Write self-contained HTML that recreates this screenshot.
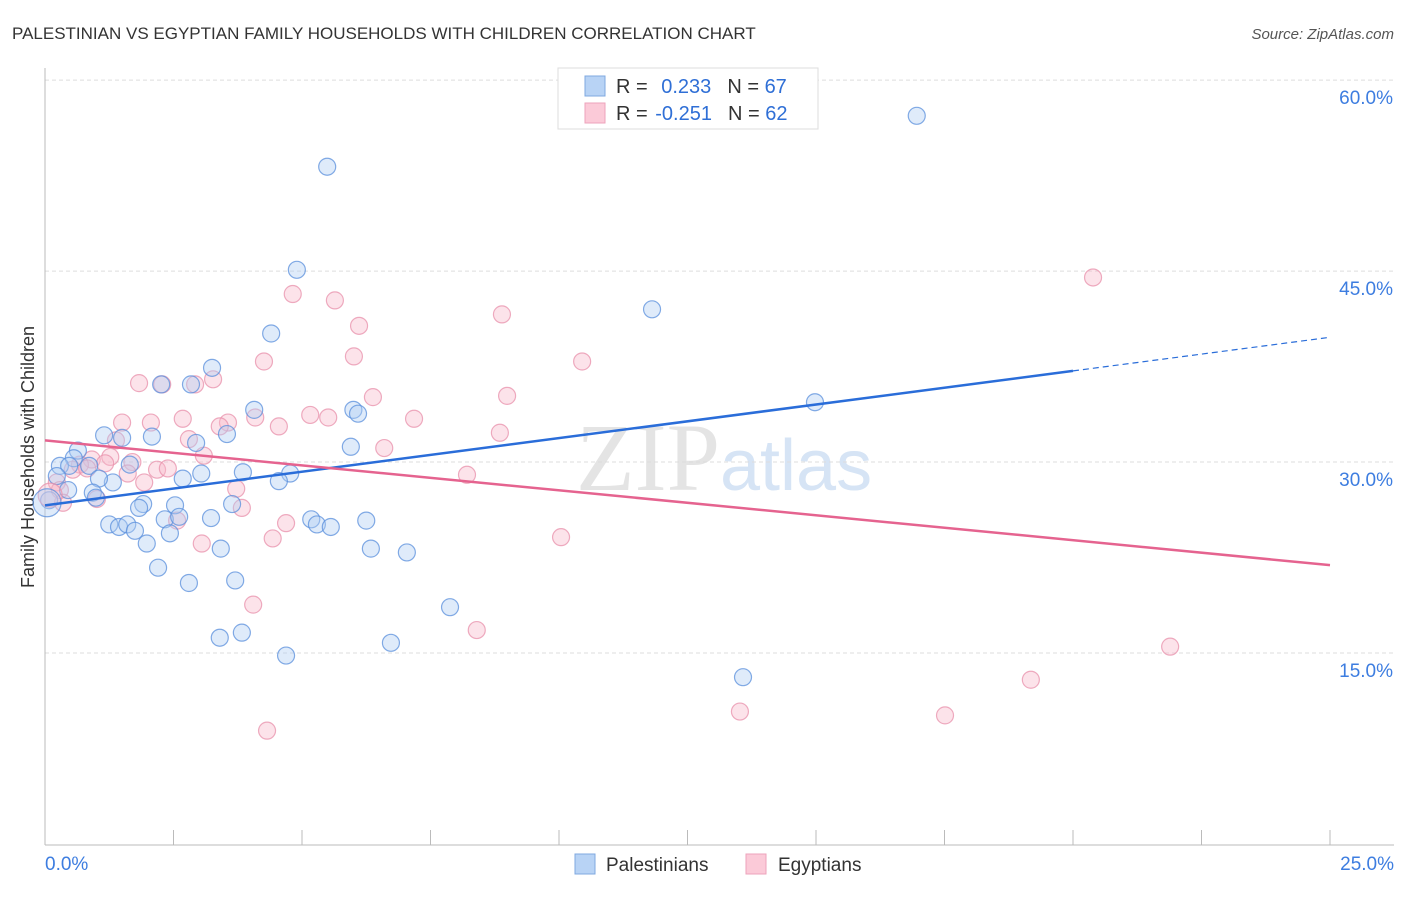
<!DOCTYPE html>
<html><head><meta charset="utf-8"><style>
body{margin:0;background:#fff;font-family:"Liberation Sans",sans-serif;}
</style></head><body>
<svg id="c" width="1406" height="892" xmlns="http://www.w3.org/2000/svg">
<text x="12" y="39" font-size="17" fill="#333">PALESTINIAN VS EGYPTIAN FAMILY HOUSEHOLDS WITH CHILDREN CORRELATION CHART</text>
<text x="1394" y="39" font-size="15" fill="#555" font-style="italic" text-anchor="end">Source: ZipAtlas.com</text>
<text x="720" y="490" font-size="96" fill="#e4e4e4" text-anchor="end" font-family="Liberation Serif,serif">ZIP</text>
<text x="720" y="490" font-size="72" fill="#d6e4f5">atlas</text>
<text transform="translate(34,457) rotate(-90)" font-size="18" fill="#333" text-anchor="middle">Family Households with Children</text>
<g id="grid"></g><g id="axes"></g><g id="pts"></g><g id="lines"></g>
<g>
<rect x="558" y="68" width="260" height="61" fill="#fff" stroke="#ddd"/>
<rect x="585" y="76" width="20" height="20" fill="#b8d3f5" stroke="#7fa8e0"/>
<rect x="585" y="103" width="20" height="20" fill="#fbcad8" stroke="#eea3bb"/>
<text x="616" y="93" font-size="20" fill="#333">R = <tspan fill="#2f6fd6" dx="8">0.233</tspan><tspan dx="16" fill="#333">N = </tspan><tspan fill="#2f6fd6">67</tspan></text>
<text x="616" y="120" font-size="20" fill="#333">R = <tspan fill="#2f6fd6" dx="2">-0.251</tspan><tspan dx="16" fill="#333">N = </tspan><tspan fill="#2f6fd6">62</tspan></text>
</g>
<g>
<rect x="575" y="854" width="20" height="20" fill="#b8d3f5" stroke="#7fa8e0"/>
<text x="606" y="871" font-size="19" fill="#333">Palestinians</text>
<rect x="746" y="854" width="20" height="20" fill="#fbcad8" stroke="#eea3bb"/>
<text x="778" y="871" font-size="19" fill="#333">Egyptians</text>
</g>
</svg>
<script>
const yTicks=[15,30,45,60];
const xTickLabels=["0.0%","25.0%"];
const blueX=[16.96,5.49,4.90,11.81,4.40,14.98,3.25,2.26,2.84,4.07,6.00,6.09,1.15,2.08,1.50,3.54,2.94,5.95,0.64,0.56,0.29,0.47,0.86,1.65,3.85,3.04,4.77,4.55,0.23,1.32,1.05,2.68,0.45,0.93,0.99,0.08,1.91,1.83,2.53,3.64,2.33,2.61,3.23,5.18,5.29,5.56,6.25,1.25,1.44,1.60,1.75,2.43,1.98,3.42,6.34,7.04,2.20,2.80,3.70,7.88,3.40,3.83,6.73,4.69,13.58];
const blueY=[57.2,53.2,45.1,42.0,40.1,34.7,37.4,36.1,36.1,34.1,34.1,33.8,32.1,32.0,31.9,32.2,31.5,31.2,30.9,30.3,29.7,29.7,29.7,29.8,29.2,29.1,29.1,28.5,28.9,28.4,28.7,28.7,27.8,27.6,27.2,27.0,26.7,26.4,26.6,26.7,25.5,25.7,25.6,25.5,25.1,24.9,25.4,25.1,24.9,25.1,24.6,24.4,23.6,23.2,23.2,22.9,21.7,20.5,20.7,18.6,16.2,16.6,15.8,14.8,13.1];
const pinkX=[20.39,4.82,5.64,8.89,6.11,6.01,4.26,10.45,3.27,1.83,2.28,2.92,6.38,8.99,5.16,5.51,2.68,2.06,1.50,4.09,3.56,3.40,4.55,7.18,8.85,2.80,1.38,6.60,3.09,1.27,0.91,1.70,1.17,0.68,0.54,0.82,2.18,2.39,1.61,8.21,1.93,0.23,3.72,0.29,1.01,0.35,3.83,2.57,4.69,4.43,3.05,10.04,4.05,8.40,21.89,19.18,13.52,17.51,4.32];
const pinkY=[44.5,43.2,42.7,41.6,40.7,38.3,37.9,37.9,36.5,36.2,36.1,36.1,35.1,35.2,33.7,33.5,33.4,33.1,33.1,33.5,33.1,32.8,32.8,33.4,32.3,31.8,31.7,31.1,30.5,30.4,30.2,30.0,29.9,29.8,29.4,29.5,29.4,29.5,29.1,29.0,28.4,28.4,27.9,27.8,27.1,26.8,26.4,25.4,25.2,24.0,23.6,24.1,18.8,16.8,15.5,12.9,10.4,10.1,8.9];
const bigX=[0.04,0.1];
const bigY=[26.8,27.4];
const blueTrend=[26.6,39.8];
const pinkTrend=[31.7,21.9];
const NS="http://www.w3.org/2000/svg";
const sx=v=>45+v*51.4, sy=v=>653-(v-15)*12.73;
function mk(tag,attrs,parent){const e=document.createElementNS(NS,tag);for(const k in attrs)e.setAttribute(k,attrs[k]);document.getElementById(parent).appendChild(e);return e;}
yTicks.forEach(t=>{
 const g=mk('line',{x1:45,x2:1394,y1:sy(t),y2:sy(t),stroke:'#ddd','stroke-dasharray':'4,3'},'grid');
 
 
 const l=mk('text',{x:1393,y:sy(t)+24,'font-size':19,fill:'#3d7de0','text-anchor':'end'},'grid');
 l.textContent=t.toFixed(1)+'%';
 
 
});
const ax=mk('line',{x1:45,x2:45,y1:68,y2:845,stroke:'#bbb'},'axes');


const bx=mk('line',{x1:45,x2:1394,y1:845,y2:845,stroke:'#bbb'},'axes');


for(let i=0;i<=10;i++){const t=mk('line',{x1:sx(i*2.5),x2:sx(i*2.5),y1:830,y2:845,stroke:'#bbb'},'axes');
 
 }
[[0,'start',45],[25,'end',1394]].forEach((d,i)=>{const t=mk('text',{x:d[2],y:870,'font-size':19,fill:'#3d7de0','text-anchor':d[1]},'axes');t.textContent=xTickLabels[i];
 
 });
function pts(X,Y,fill,stroke,name,r){X.forEach((x,i)=>{const c=mk('circle',{cx:sx(x),cy:sy(Y[i]),r:r,fill:fill,'fill-opacity':0.4,stroke:stroke,'stroke-opacity':0.75,'stroke-width':1.2},'pts');
 
 });}
pts(pinkX,pinkY,'#f7b8cb','#e890ab','point-egyptians',8.5);
pts(blueX,blueY,'#b0cdf3','#5a8fdc','point-palestinians',8.5);
pts([bigX[1]],[bigY[1]],'#f7b8cb','#e890ab','point-egyptians-large',12);
pts([bigX[0]],[bigY[0]],'#b0cdf3','#5a8fdc','point-palestinians-large',14);
const by=x=>blueTrend[0]+(blueTrend[1]-blueTrend[0])*x/25;
const b1=mk('line',{x1:sx(0),y1:sy(by(0)),x2:sx(20),y2:sy(by(20)),stroke:'#2a6dd9','stroke-width':2.5},'lines');


const b2=mk('line',{x1:sx(20),y1:sy(by(20)),x2:sx(25),y2:sy(by(25)),stroke:'#2a6dd9','stroke-width':1.2,'stroke-dasharray':'6,4'},'lines');


const p1=mk('line',{x1:sx(0),y1:sy(pinkTrend[0]),x2:sx(25),y2:sy(pinkTrend[1]),stroke:'#e5638f','stroke-width':2.5},'lines');


</script>
</body></html>
